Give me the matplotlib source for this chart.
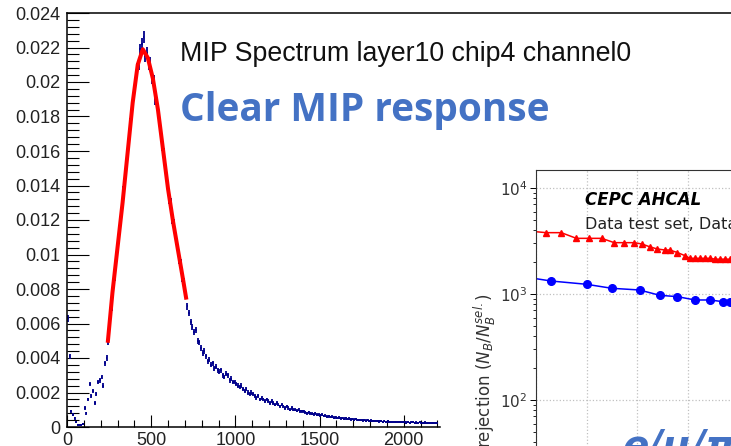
import numpy as np
import matplotlib
matplotlib.use("Agg")
import matplotlib.pyplot as plt
from matplotlib.ticker import FixedLocator, LogLocator, NullFormatter


# MIP spectrum of layer10 / chip4 / channel0, 10-count ADC bins from 0 to 2200
BIN_WIDTH = 10
mip_counts = [
    # 0 - 240
    0.0063, 0.0041, 0.0009, 0.0007, 0.0005, 0.0003, 0.0001, 0.0001, 0.0001, 0.0002,
    0.0011, 0.0008, 0.0016, 0.0025, 0.0018, 0.0021, 0.0014, 0.0019, 0.0026, 0.0027,
    0.0029, 0.0024, 0.0037, 0.0040,
    # 240 - 730, peak
    0.0049, 0.0063, 0.0069, 0.0082, 0.0087, 0.0101, 0.0106, 0.0119, 0.0124, 0.0137,
    0.0143, 0.0157, 0.0161, 0.0176, 0.0181, 0.0195, 0.0197, 0.0208, 0.0210, 0.0219,
    0.0222, 0.0226, 0.0215, 0.0217, 0.0210, 0.0211, 0.0202, 0.0201, 0.0190, 0.0188,
    0.0178, 0.0174, 0.0163, 0.0159, 0.0147, 0.0144, 0.0132, 0.0130, 0.0120, 0.0118,
    0.0108, 0.0107, 0.0097, 0.0095, 0.0086, 0.0084, 0.0077, 0.0070, 0.0066,
    # 730 - 1000
    0.0061, 0.0058, 0.0055, 0.0056, 0.0050, 0.0049, 0.0046, 0.0043, 0.0044, 0.0041,
    0.0038, 0.0039, 0.0036, 0.0037, 0.0034, 0.0035, 0.0033, 0.0032, 0.0033, 0.0030,
    0.0029, 0.0031, 0.0030, 0.0027, 0.0028, 0.0026, 0.0026,
    # 1000 - 1500
    0.0025, 0.0024, 0.0023, 0.0024, 0.0022, 0.0021, 0.0022, 0.0020, 0.0019, 0.0020,
    0.0019, 0.0018, 0.0017, 0.0018, 0.0016, 0.0017, 0.0016, 0.0015, 0.0016, 0.0015,
    0.0014, 0.0015, 0.0014, 0.0013, 0.0014, 0.0013, 0.0012, 0.0013, 0.0012, 0.0011,
    0.0012, 0.0011, 0.0010, 0.0011, 0.0010, 0.0010, 0.00095, 0.0010, 0.0009, 0.00092,
    0.0009, 0.00085, 0.0008, 0.00086, 0.0008, 0.00078, 0.00075, 0.0008, 0.00072, 0.0007,
    # 1500 - 2000
    0.00068, 0.0007, 0.00064, 0.00066, 0.0006, 0.00062, 0.00058, 0.0006, 0.00055, 0.00056,
    0.00052, 0.00055, 0.0005, 0.00052, 0.00048, 0.0005, 0.00047, 0.00049, 0.00044, 0.00046,
    0.00043, 0.00045, 0.0004, 0.00042, 0.00041, 0.00038, 0.0004, 0.00037, 0.00039, 0.00035,
    0.00037, 0.00034, 0.00036, 0.00033, 0.00035, 0.00032, 0.00034, 0.00031, 0.00033, 0.0003,
    0.00032, 0.0003, 0.00031, 0.00029, 0.0003, 0.00028, 0.0003, 0.00027, 0.00029, 0.00027,
    # 2000 - 2200
    0.00028, 0.00026, 0.00029, 0.00025, 0.00027, 0.00028, 0.00025, 0.00026, 0.00024, 0.00027,
    0.00025, 0.00023, 0.00026, 0.00024, 0.00022, 0.00025, 0.00023, 0.00024, 0.00022, 0.00023,
]

# Landau x Gauss fit over the peak region
fit_adc = [243, 270, 300, 330, 360, 390, 420, 450, 480, 510, 540, 570, 600, 630, 660, 690, 707]
fit_val = [0.0050, 0.0078, 0.0104, 0.0130, 0.0159, 0.0188, 0.0210, 0.0219, 0.0214,
           0.0202, 0.0184, 0.0161, 0.0138, 0.0119, 0.0102, 0.0085, 0.0075]

# AHCAL background rejection curves
rej_x_tri = [-3, 4, 10, 16, 21, 26, 31, 35, 39, 42, 45, 48, 51, 53, 56, 59, 61, 63, 65, 67, 69, 71, 73, 75, 77]
rej_tri = [3930, 3790, 3790, 3350, 3350, 3350, 3050, 3050, 3050, 2960, 2790, 2660, 2600,
           2600, 2460, 2300, 2170, 2170, 2170, 2170, 2170, 2130, 2130, 2130, 2130]
rej_x_dot = [-3, 6, 20, 30, 41, 49, 56, 63, 69, 74, 77]
rej_dot = [1430, 1326, 1235, 1132, 1091, 972, 944, 878, 878, 846, 835]

W, H = 731, 446
SLIDE_BLUE = "#4472C4"

fig = plt.figure(figsize=(W / 100, H / 100), dpi=100)

# ---- ROOT-style histogram ----
x_scale = 0.1684          # pixels per ADC count
ax = fig.add_axes([67 / W, 19 / H, (W - 67) / W, 414 / H])
ax.set_xlim(0, (W - 67) / x_scale)
ax.set_ylim(0, 0.024)

vals = np.array(mip_counts)
centers = np.arange(len(vals)) * BIN_WIDTH + BIN_WIDTH / 2
errs = np.sqrt(vals * 4e-6) + 3e-5
ax.errorbar(centers, vals, xerr=BIN_WIDTH / 2, yerr=errs, fmt="none",
            ecolor="#00008b", elinewidth=1.3, capsize=0, zorder=2)
ax.plot(fit_adc, fit_val, color="red", lw=2.9, zorder=3)

ax.spines["right"].set_visible(False)
ax.spines["bottom"].set_bounds(0, 2215)
for s in ("left", "bottom", "top"):
    ax.spines[s].set_linewidth(1.1)

ax.xaxis.set_major_locator(FixedLocator(np.arange(0, 2001, 500)))
ax.xaxis.set_minor_locator(FixedLocator(np.arange(0, 2201, 100)))
ax.yaxis.set_major_locator(FixedLocator(np.arange(0, 0.0241, 0.002)))
ax.yaxis.set_minor_locator(FixedLocator(np.arange(0, 0.0241, 0.0004)))
ax.set_yticklabels(["0"] + [f"{v:g}" for v in np.arange(0.002, 0.0241, 0.002).round(3)])
ax.tick_params(axis="y", which="major", direction="in", length=15.5, width=0.8, pad=4.5)
ax.tick_params(axis="y", which="minor", direction="in", length=8.5, width=0.8)
ax.tick_params(axis="x", which="major", direction="in", length=9, width=0.8, pad=3.5)
ax.tick_params(axis="x", which="minor", direction="in", length=4.7, width=0.8)
for lab in ax.get_xticklabels() + ax.get_yticklabels():
    lab.set_fontfamily("Liberation Sans")
    lab.set_fontsize(13)
    lab.set_color("#222222")

fig.text(180 / W, (H - 61) / H, "MIP Spectrum layer10 chip4 channel0",
         family="Liberation Sans", fontsize=19.3, color="#111111", va="baseline")
fig.text(180 / W, (H - 121) / H, "Clear MIP response",
         family=["Open Sans", "DejaVu Sans"], fontweight="bold",
         fontsize=27.9, color=SLIDE_BLUE, va="baseline", zorder=10)

# ---- rejection panel pasted on the right ----
px_per_unit = 2.525
ax2 = fig.add_axes([536 / W, -50 / H, 264 / W, 326 / H], zorder=5)
ax2.set_facecolor("white")
ax2.set_xlim(0, 264 / px_per_unit)
decades = 326 / 106
ax2.set_yscale("log")
ax2.set_ylim(10 ** (4 + 18 / 106 - decades), 10 ** (4 + 18 / 106))

ax2.plot(rej_x_tri, rej_tri, color="red", marker="^", markersize=5, lw=1.1)
ax2.plot(rej_x_dot, rej_dot, color="blue", marker="o", markersize=5.5, lw=1.1)

ax2.xaxis.set_major_locator(FixedLocator(np.arange(0, 101, 20)))
ax2.yaxis.set_major_locator(LogLocator(base=10))
ax2.yaxis.set_minor_locator(LogLocator(base=10, subs=np.arange(2, 10)))
ax2.yaxis.set_minor_formatter(NullFormatter())
ax2.grid(True, which="major", color="#c0c0c0", linestyle=":", linewidth=0.9)
ax2.tick_params(axis="y", which="major", length=4, width=0.7, labelsize=11, pad=2,
                labelcolor="#333333")
ax2.tick_params(axis="y", which="minor", length=2.2, width=0.6)
ax2.tick_params(axis="x", labelbottom=False)
for s in ax2.spines.values():
    s.set_linewidth(0.8)
    s.set_color("#333333")

ax2.text(585 / W, (H - 205) / H, "CEPC AHCAL", transform=fig.transFigure,
         fontsize=12, fontweight="bold", fontstyle="italic", va="baseline")
ax2.text(585 / W, (H - 229) / H, "Data test set, Data", transform=fig.transFigure,
         fontsize=11.5, color="#222222", va="baseline")

fig.text(485 / W, -2 / H, r"rejection ($N_B/N_B^{sel.}$)", rotation=90,
         fontsize=12, color="#333333", ha="center", va="bottom", zorder=6)
fig.text(623 / W, -12 / H, "e/μ/π", family=["DejaVu Sans"], fontweight="bold",
         fontstyle="italic", fontsize=28, color=SLIDE_BLUE, va="baseline", zorder=10)

fig.savefig("out.png", dpi=100)
